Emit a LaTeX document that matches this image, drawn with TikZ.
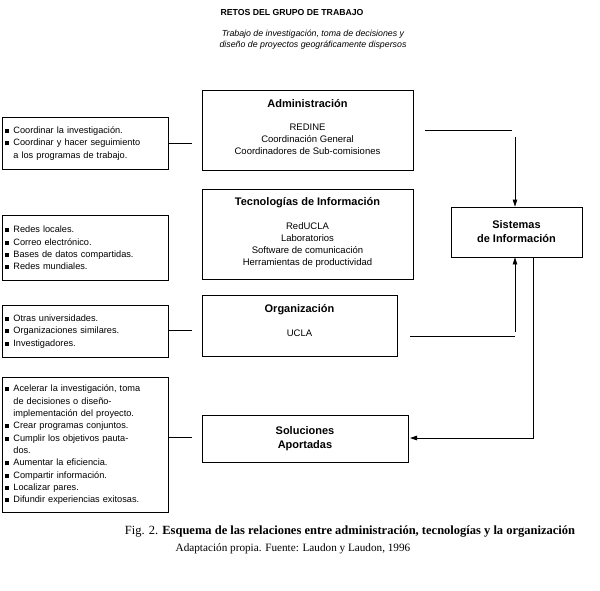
\documentclass[tikz,border=0pt]{standalone}
\usepackage{fontspec}
\setmainfont{Liberation Sans}
\newfontfamily\capfont{Liberation Serif}
\usetikzlibrary{arrows.meta}
\newcommand{\itm}{\makebox[8pt][l]{\rule[0.5pt]{4pt}{4pt}}}
\newcommand{\cnt}{\hspace*{8pt}}
\tikzset{
  mainbox/.style={draw, thick, align=center, font=\fontsize{9.5}{11.8}\selectfont, inner sep=2pt},
  listbox/.style={draw, thick, align=left, font=\fontsize{9.2}{12.3}\selectfont, inner sep=3pt, text width=160pt},
  ttl/.style={font=\fontsize{11}{13}\selectfont\bfseries},
  link/.style={thick},
  arr/.style={thick, -{Triangle[length=7pt,width=4.5pt]}}
}
\begin{document}
\begin{tikzpicture}[x=1pt,y=-1pt]
    \useasboundingbox (0,0) rectangle (600,590);

    % Title
    \node[font=\fontsize{8.7}{10}\selectfont\bfseries] (title) at (292,13) {RETOS DEL GRUPO DE TRABAJO};
    \node[font=\fontsize{8.8}{11}\selectfont\itshape, align=center] (sub) at (313,40)
        {Trabajo de investigación, toma de decisiones y\\diseño de proyectos geográficamente dispersos};

    % Central boxes
    \draw[thick] (202,90) rectangle (413,170);
    \node[ttl] (admt) at (307.5,104) {Administración};
    \node[mainbox, draw=none] (adm) at (307.5,139) {REDINE\\Coordinación General\\Coordinadores de Sub-comisiones};
    \draw[thick] (202,189) rectangle (413,279);
    \node[ttl] (tect) at (307.5,203) {Tecnologías de Información};
    \node[mainbox, draw=none] (tec) at (307.5,245) {RedUCLA\\Laboratorios\\Software de comunicación\\Herramientas de productividad};
    \draw[thick] (202,295) rectangle (397,356);
    \node[ttl] (orgt) at (299.5,310) {Organización};
    \node[mainbox, draw=none] (orgl) at (299.5,333) {UCLA};
    \node[mainbox, minimum width=206pt, minimum height=47pt, font=\fontsize{11}{14}\selectfont\bfseries] (sol) at (305,438.5)
        {Soluciones\\Aportadas};
    \node[mainbox, minimum width=131pt, minimum height=50pt, font=\fontsize{11}{14}\selectfont\bfseries] (sis) at (516.5,232)
        {Sistemas\\de Información};

    % Left lists
    \node[listbox, anchor=north west, minimum height=52pt] (l1) at (2,117)
        {\itm Coordinar la investigación.\\\itm Coordinar y hacer seguimiento\\\cnt a los programas de trabajo.};
    \node[listbox, anchor=north west, minimum height=65pt] (l2) at (2,215)
        {\itm Redes locales.\\\itm Correo electrónico.\\\itm Bases de datos compartidas.\\\itm Redes mundiales.};
    \node[listbox, anchor=north west, minimum height=52pt] (l3) at (2,305)
        {\itm Otras universidades.\\\itm Organizaciones similares.\\\itm Investigadores.};
    \node[listbox, anchor=north west, minimum height=135pt] (l4) at (2,377)
        {\itm Acelerar la investigación, toma\\\cnt de decisiones o diseño-\\\cnt implementación del proyecto.\\\itm Crear programas conjuntos.\\\itm Cumplir los objetivos pauta-\\\cnt dos.\\\itm Aumentar la eficiencia.\\\itm Compartir información.\\\itm Localizar pares.\\\itm Difundir experiencias exitosas.};

    % Connectors
    \coordinate (c1) at (192,143);
    \coordinate (c3) at (192,330);
    \coordinate (c4) at (192,437);
    \draw[link] (l1.east |- c1) -- (c1);
    \draw[link] (l3.east |- c3) -- (c3);
    \draw[link] (l4.east |- c4) -- (c4);

    \coordinate (a1) at (425,130);
    \coordinate (a2) at (512,130);
    \coordinate (a3) at (515,137);
    \draw[link] (a1) -- (a2);
    \draw[arr] (a3) -- (a3 |- sis.north);

    \coordinate (o1) at (410,336);
    \coordinate (o2) at (515,336);
    \coordinate (o3) at (515,332);
    \draw[link] (o1) -- (o2);
    \draw[arr] (o3) -- (o3 |- sis.south);

    \coordinate (s1) at (533,438);
    \draw[arr] (s1 |- sis.south) -- (s1) -- (410,438);

    % Caption
    \node[font=\capfont\fontsize{12.5}{14}\selectfont] (cap) at (350,532)
        {Fig. 2. \textbf{Esquema de las relaciones entre administración, tecnologías y la organización}};
    \node[font=\capfont\fontsize{11.2}{12}\selectfont] (src) at (293,549)
        {Adaptación propia. Fuente: Laudon y Laudon, 1996};
\end{tikzpicture}
\end{document}
